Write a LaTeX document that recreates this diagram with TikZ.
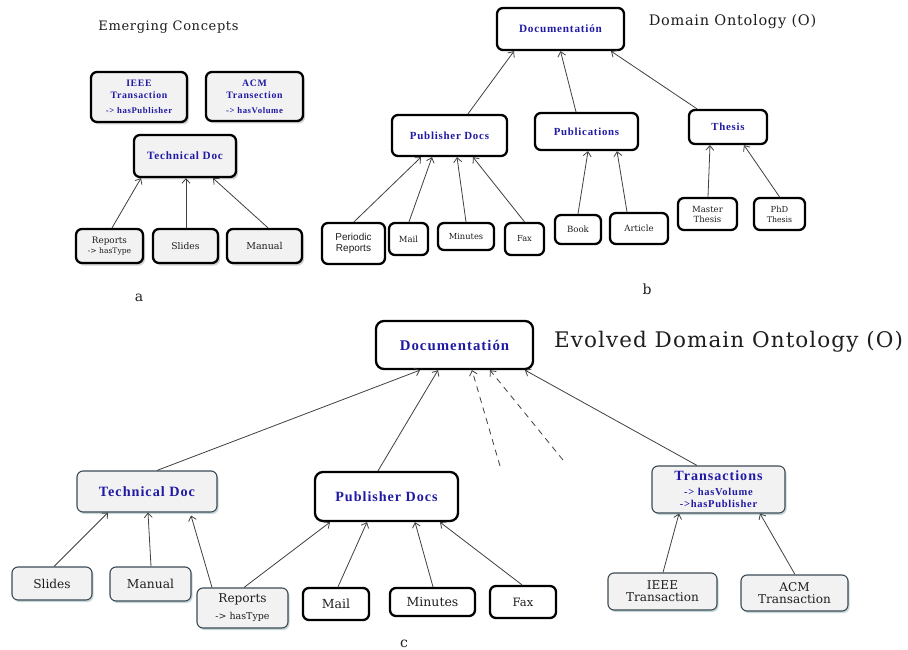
\documentclass[tikz,border=0pt]{standalone}
\usepackage{fontspec}
\setmainfont{DejaVu Serif}
\newfontfamily\labfont{Liberation Serif}[LetterSpace=7]
\newfontfamily\ttlfont{DejaVu Serif}[LetterSpace=5]
\newfontfamily\sansfnt{Liberation Sans}
\usetikzlibrary{arrows.meta,shadows}
\definecolor{lblue}{RGB}{32,26,165}
\definecolor{boxgray}{RGB}{242,242,242}
\definecolor{edgegray}{RGB}{60,74,84}
\definecolor{txt}{RGB}{30,30,30}
\newcommand\myblue[2]{\labfont\bfseries\fontsize{#1}{#2}\selectfont\color{lblue}}
\newcommand\myreg[2]{\rmfamily\fontsize{#1}{#2}\selectfont\color{txt}}
\newcommand\mytitle[2]{\ttlfont\fontsize{#1}{#2}\selectfont\color{txt}}
\tikzset{
 base/.style={rounded corners=6pt, align=center, inner sep=0pt, text=txt},
 thickbox/.style={base, draw=black, line width=2.3pt, fill=white},
 grayA/.style={thickbox, fill=boxgray, drop shadow={opacity=0.35, shadow xshift=2pt, shadow yshift=-2.5pt, fill=gray}},
 grayC/.style={base, draw=edgegray, line width=1.1pt, fill=boxgray, drop shadow={opacity=0.3, shadow xshift=1.5pt, shadow yshift=-2pt, fill=teal!40!gray}},
 bluetext/.style={text=lblue},
 conn/.style={draw=black!75, line width=0.8pt, -{Straight Barb[length=4.5pt,width=8pt,line width=0.8pt]}},
 dconn/.style={conn, dash pattern=on 6pt off 5pt},
 title/.style={inner sep=0pt, text=txt},
}
\begin{document}
\begin{tikzpicture}[x=1pt,y=-1pt]
\useasboundingbox[fill=white] (0,0) rectangle (908,650);

% ---------- panel a ----------
\node[title, font=\mytitle{13}{15}] (ta) at (168.5,27) {Emerging Concepts};
\node[grayA, bluetext, minimum width=96pt, minimum height=50pt, font=\myblue{9.8}{12}] (ieee) at (139,97)
  {IEEE\\Transaction\\[3pt]\myblue{8.7}{10}-> hasPublisher};
\node[grayA, bluetext, minimum width=97pt, minimum height=49pt, font=\myblue{9.8}{12}] (acm) at (254.5,96.5)
  {ACM\\Transection\\[3pt]\myblue{8.7}{10}-> hasVolume};
\node[grayA, bluetext, minimum width=102pt, minimum height=42pt, font=\myblue{11.2}{13}] (tda) at (185,156)
  {Technical Doc};
\node[grayA, minimum width=67pt, minimum height=34pt, font=\myreg{8.8}{10}] (repa) at (109.5,246)
  {Reports\\\myreg{7.6}{9}-> hasType};
\node[grayA, minimum width=65pt, minimum height=34pt, font=\myreg{9.2}{11}] (slia) at (185.5,246)
  {Slides};
\node[grayA, minimum width=75pt, minimum height=34pt, font=\myreg{9.5}{11}] (mana) at (264.5,246)
  {Manual};
\node[title, font=\mytitle{14}{16}] (la) at (139,298) {a};

\draw[conn] ([xshift=2.5pt]repa.north) -- ([xshift=-44pt]tda.south);
\draw[conn] ([xshift=0.5pt]slia.north) -- ([xshift=1pt]tda.south);
\draw[conn] ([xshift=3.5pt]mana.north) -- ([xshift=28pt]tda.south);

% ---------- panel b ----------
\node[title, font=\mytitle{14.5}{17}] (tb) at (732.5,22) {Domain Ontology (O)};
\node[thickbox, bluetext, minimum width=127pt, minimum height=42pt, font=\myblue{11.2}{13}] (docb) at (560.5,29)
  {Documentatión};
\node[thickbox, bluetext, minimum width=115pt, minimum height=41pt, font=\myblue{10.9}{13}] (pubb) at (449.5,135.5)
  {Publisher Docs};
\node[thickbox, bluetext, minimum width=103pt, minimum height=37pt, font=\myblue{10.8}{13}] (publ) at (586.5,131.5)
  {Publications};
\node[thickbox, bluetext, minimum width=78pt, minimum height=34pt, font=\myblue{10.8}{13}] (thes) at (728,127)
  {Thesis};
\node[thickbox, minimum width=59pt, minimum height=32pt, font=\myreg{8.5}{10}] (mast) at (707.5,214)
  {Master\\Thesis};
\node[thickbox, minimum width=51pt, minimum height=32pt, font=\myreg{8.3}{10}] (phd) at (779.5,214)
  {PhD\\\myreg{7.8}{9}Thesis};
\node[thickbox, minimum width=63pt, minimum height=41pt, font=\sansfnt\fontsize{10}{11}\selectfont] (peri) at (353.5,243.5)
  {Periodic\\Reports};
\node[thickbox, minimum width=39pt, minimum height=32pt, font=\myreg{8.5}{10}] (mail) at (408.5,239)
  {Mail};
\node[thickbox, minimum width=56pt, minimum height=27pt, font=\myreg{8.3}{10}] (minu) at (466,236.5)
  {Minutes};
\node[thickbox, minimum width=39pt, minimum height=32pt, font=\myreg{8.3}{10}] (fax) at (524.5,239)
  {Fax};
\node[thickbox, minimum width=46pt, minimum height=29pt, font=\myreg{8.6}{10}] (book) at (578,229.5)
  {Book};
\node[thickbox, minimum width=58pt, minimum height=31pt, font=\myreg{8.6}{10}] (arti) at (639,228.5)
  {Article};
\node[title, font=\mytitle{14}{16}] (lb) at (647,289) {b};

\draw[conn] ([xshift=18.5pt]pubb.north) -- ([xshift=-46.5pt]docb.south);
\draw[conn] ([xshift=-10.5pt]publ.north) -- ([xshift=0pt]docb.south);
\draw[conn] ([xshift=-31pt]thes.north) -- ([xshift=50.5pt]docb.south);
\draw[conn] ([xshift=0.5pt]peri.north) -- ([xshift=-28.5pt]pubb.south);
\draw[conn] ([xshift=0.5pt]mail.north) -- ([xshift=-17.5pt]pubb.south);
\draw[conn] ([xshift=0pt]minu.north) -- ([xshift=7.5pt]pubb.south);
\draw[conn] ([xshift=0pt]fax.north) -- ([xshift=23.5pt]pubb.south);
\draw[conn] ([xshift=0pt]book.north) -- ([xshift=1.5pt]publ.south);
\draw[conn] ([xshift=-12pt]arti.north) -- ([xshift=30.5pt]publ.south);
\draw[conn] ([xshift=0.5pt]mast.north) -- ([xshift=-18pt]thes.south);
\draw[conn] ([xshift=0pt]phd.north) -- ([xshift=16pt]thes.south);

% ---------- panel c ----------
\node[title, font=\mytitle{21.5}{24}] (tc) at (728.5,342) {Evolved Domain Ontology (O)};
\node[thickbox, bluetext, rounded corners=8pt, minimum width=157pt, minimum height=48pt, font=\myblue{14.8}{16}] (docc) at (454.5,345)
  {Documentatión};
\node[grayC, bluetext, minimum width=140pt, minimum height=41pt, font=\myblue{14.2}{16}] (tdc) at (147,491.5)
  {Technical Doc};
\node[thickbox, bluetext, rounded corners=8pt, minimum width=143pt, minimum height=49pt, font=\myblue{14.1}{16}] (pubc) at (386.5,496.5)
  {Publisher Docs};
\node[grayC, bluetext, minimum width=133pt, minimum height=47pt, font=\myblue{14.1}{16}] (trc) at (718.5,489.5)
  {Transactions\\[-1pt]\myblue{10.5}{10}-> hasVolume\\[-4pt]\myblue{10.5}{10}->hasPublisher};
\node[grayC, minimum width=80pt, minimum height=33pt, font=\myreg{12.2}{14}] (slic) at (52,583.5)
  {Slides};
\node[grayC, minimum width=81pt, minimum height=34pt, font=\myreg{12.3}{14}] (manc) at (150.5,584)
  {Manual};
\node[grayC, minimum width=91pt, minimum height=40pt, font=\myreg{12.1}{14}] (repc) at (242.5,608)
  {Reports\\[3pt]\myreg{9.5}{11}-> hasType};
\node[thickbox, minimum width=66pt, minimum height=32pt, font=\myreg{12.5}{14}] (mailc) at (336,604)
  {Mail};
\node[thickbox, minimum width=85pt, minimum height=28pt, font=\myreg{12.5}{14}] (minc) at (432.5,602)
  {Minutes};
\node[thickbox, minimum width=66pt, minimum height=32pt, font=\myreg{11.5}{14}] (faxc) at (523,602)
  {Fax};
\node[grayC, minimum width=109pt, minimum height=37pt, font=\myreg{12.1}{12}] (ieec) at (662.5,591.5)
  {IEEE\\Transaction};
\node[grayC, minimum width=107pt, minimum height=36pt, font=\myreg{12.1}{12}] (acmc) at (794.5,593)
  {ACM\\Transaction};
\node[title, font=\mytitle{14}{16}] (lc) at (404,644) {c};

\coordinate (d1) at (500,466);
\coordinate (d2) at (563,460);
\draw[conn] ([xshift=10pt]tdc.north) -- ([xshift=-34.5pt]docc.south);
\draw[conn] ([xshift=-8.5pt]pubc.north) -- ([xshift=-16.5pt]docc.south);
\draw[dconn] (d1) -- ([xshift=17.5pt]docc.south);
\draw[dconn] (d2) -- ([xshift=35.5pt]docc.south);
\draw[conn] ([xshift=-21.5pt]trc.north) -- ([xshift=70.5pt]docc.south);
\draw[conn] ([xshift=2pt]slic.north) -- ([xshift=-39pt]tdc.south);
\draw[conn] ([xshift=0.5pt]manc.north) -- ([xshift=1pt]tdc.south);
\draw[conn] ([xshift=-30.5pt]repc.north) -- ([xshift=44pt,yshift=-3pt]tdc.south);
\draw[conn] ([xshift=1.5pt]repc.north) -- ([xshift=-56.5pt]pubc.south);
\draw[conn] ([xshift=2pt]mailc.north) -- ([xshift=-19.5pt]pubc.south);
\draw[conn] ([xshift=0.5pt]minc.north) -- ([xshift=28.5pt]pubc.south);
\draw[conn] ([xshift=-1pt]faxc.north) -- ([xshift=53.5pt]pubc.south);
\draw[conn] ([xshift=0.5pt]ieec.north) -- ([xshift=-39.5pt]trc.south);
\draw[conn] ([xshift=0.5pt]acmc.north) -- ([xshift=41.5pt]trc.south);
\end{tikzpicture}
\end{document}
